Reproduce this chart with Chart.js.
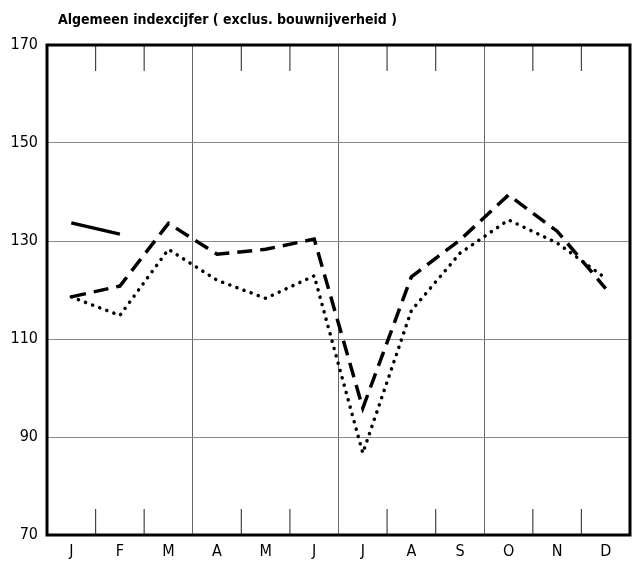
<!DOCTYPE html>
<html>
<head>
<meta charset="utf-8">
<script src="https://cdn.jsdelivr.net/npm/chart.js@4.4.0/dist/chart.umd.min.js"></script>
<style>
  html, body { margin: 0; padding: 0; background: #fff; }
  #wrap { width: 632px; height: 564px; position: relative; }
</style>
</head>
<body>
<div id="wrap"><canvas id="grafiek"></canvas></div>
<script>
// Algemeen indexcijfer per maand
const maanden = ['J', 'F', 'M', 'A', 'M', 'J', 'J', 'A', 'S', 'O', 'N', 'D'];
const vorigJaar = [133.7, 131.4, null, null, null, null, null, null, null, null, null, null]; // doorgetrokken lijn
const gestreept = [118.6, 120.8, 133.6, 127.3, 128.3, 130.4, 95.9, 122.7, 130.2, 139.4, 132.0, 120.3];
const gestippeld = [118.6, 114.8, 128.3, 122.0, 118.3, 122.9, 86.7, 115.8, 127.5, 134.3, 129.6, 122.4];
const yTicks = [70, 90, 110, 130, 150, 170];
const titel = 'Algemeen indexcijfer ( exclus. bouwnijverheid )';

const FONT = '"DejaVu Sans Condensed", "DejaVu Sans", sans-serif';

// Kader, korte streepjes en titel
const kaderPlugin = {
    id: 'kader',
    afterDatasetsDraw(chart) {
        const { ctx, chartArea: a, scales } = chart;
        const x = scales.x;
        ctx.save();
        // korte streepjes op de maandgrenzen
        ctx.strokeStyle = '#444';
        ctx.lineWidth = 1.2;
        for (let i = 1; i < maanden.length; i++) {
            if (i % 3 === 0) continue;
            const px = (x.getPixelForValue(i - 1) + x.getPixelForValue(i)) / 2;
            ctx.beginPath();
            ctx.moveTo(px, a.top);
            ctx.lineTo(px, a.top + 26);
            ctx.moveTo(px, a.bottom);
            ctx.lineTo(px, a.bottom - 26);
            ctx.stroke();
        }
        // kader
        ctx.strokeStyle = '#000';
        ctx.lineWidth = 3;
        ctx.strokeRect(a.left, a.top, a.right - a.left, a.bottom - a.top);
        // titel
        ctx.fillStyle = '#000';
        ctx.font = 'bold 14px ' + FONT;
        ctx.textBaseline = 'middle';
        ctx.fillText(titel, 58, 20);
        ctx.restore();
    }
};

new Chart(document.getElementById('grafiek'), {
    type: 'line',
    data: {
        labels: maanden,
        datasets: [
            {
                data: vorigJaar,
                borderColor: '#000',
                borderWidth: 3.5,
                spanGaps: false
            },
            {
                data: gestreept,
                borderColor: '#000',
                borderWidth: 3.5,
                borderDash: [15, 8]
            },
            {
                data: gestippeld,
                borderColor: '#000',
                borderWidth: 3.5,
                borderDash: [0.1, 7.5],
                borderCapStyle: 'round'
            }
        ]
    },
    options: {
        responsive: true,
        maintainAspectRatio: false,
        animation: false,
        layout: { padding: { top: 45, right: 2, left: 0, bottom: 0 } },
        elements: {
            line: { tension: 0, fill: false },
            point: { radius: 0, hoverRadius: 0 }
        },
        plugins: {
            legend: { display: false },
            tooltip: { enabled: false }
        },
        scales: {
            x: {
                offset: true,
                grid: {
                    offset: true,
                    drawTicks: false,
                    lineWidth: 1,
                    color: (c) => (c.index === 3 || c.index === 6 || c.index === 9) ? '#666' : 'rgba(0,0,0,0)'
                },
                border: { display: false },
                ticks: {
                    color: '#000',
                    padding: 7,
                    maxRotation: 0,
                    autoSkip: false,
                    font: { family: FONT, size: 16 }
                },
                afterFit: (s) => { s.height = 29; }
            },
            y: {
                min: 70,
                max: 170,
                afterBuildTicks: (s) => { s.ticks = yTicks.map(v => ({ value: v })); },
                grid: {
                    drawTicks: false,
                    lineWidth: 1,
                    color: '#8a8a8a'
                },
                border: { display: false },
                ticks: {
                    color: '#000',
                    padding: 9,
                    font: { family: FONT, size: 16 }
                },
                afterFit: (s) => { s.width = 47; }
            }
        }
    },
    plugins: [kaderPlugin]
});
</script>
</body>
</html>
